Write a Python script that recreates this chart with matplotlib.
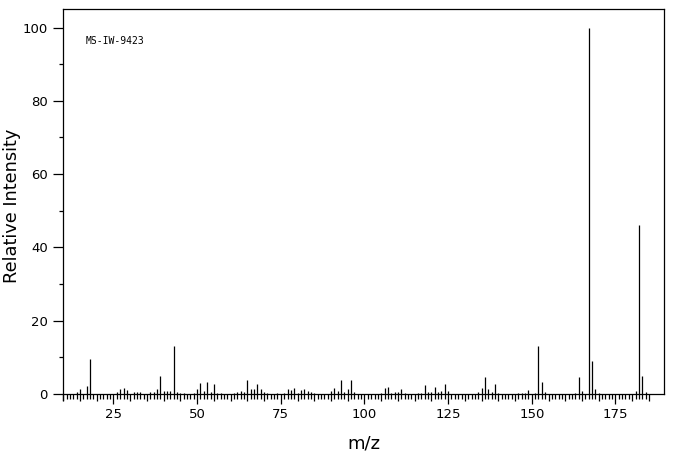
import matplotlib
matplotlib.use("Agg")
import matplotlib.pyplot as plt
import numpy as np

mz = [14, 15, 17, 18, 26, 27, 28, 29, 31, 32, 33, 36, 37, 38, 39, 40, 41, 42, 43, 44,
      45, 46, 49, 50, 51, 52, 53, 54, 55, 56, 57, 61, 62, 63, 64, 65, 66, 67, 68, 69,
      70, 71, 74, 76, 77, 78, 79, 80, 81, 82, 83, 84, 85, 90, 91, 92, 93, 94, 95, 96,
      97, 105, 106, 107, 108, 109, 110, 111, 112, 116, 117, 118, 119, 120, 121, 122, 123, 124, 125,
      134, 135, 136, 137, 138, 139, 140, 146, 147, 148, 149, 151, 152, 153, 154,
      163, 164, 165, 167, 168, 169, 170, 181, 182, 183, 184]
intensity = [0.45, 1.45, 2.1, 9.6, 0.45, 1.45, 1.7, 1.2, 0.45, 0.45, 0.45, 0.45, 0.45, 1.45, 4.8, 0.9, 0.9, 0.9, 13.0, 0.6,
             0.35, 0.35, 0.35, 1.45, 2.9, 0.9, 3.4, 0.6, 2.6, 0.35, 0.35, 0.35, 0.6, 0.9, 0.6, 3.9, 1.45, 1.45, 2.8, 1.45,
             0.6, 0.35, 0.35, 0.35, 1.45, 1.2, 1.7, 0.35, 1.2, 1.45, 0.9, 0.6, 0.35, 0.9, 1.7, 0.9, 3.9, 0.6, 1.45, 3.9,
             0.6, 0.35, 1.7, 2.0, 0.35, 0.6, 0.6, 1.45, 0.35, 0.35, 0.35, 2.5, 0.6, 0.6, 2.0, 0.6, 0.9, 2.8, 0.9,
             0.6, 1.7, 4.7, 1.45, 0.6, 2.7, 0.35, 0.35, 0.35, 0.35, 1.1, 0.35, 13.0, 3.3, 0.6,
             0.35, 4.6, 0.9, 100.0, 9.1, 1.45, 0.35, 0.9, 46.0, 5.0, 0.6]

x_labels = [25, 50, 75, 100, 125, 150, 175]
y_major = [0, 20, 40, 60, 80, 100]
y_minor = [10, 30, 50, 70, 90]
x_tick_range = (10, 185)
label_text = "MS-IW-9423"

fig = plt.figure(figsize=(6.76, 4.55), dpi=100)
W, H = 676, 455
left, right, top, bottom = 63.3, 664.3, 9.3, 400.0
ax = fig.add_axes([left / W, 1 - bottom / H, (right - left) / W, (bottom - top) / H])

ax.vlines(mz, 0, intensity, colors="black", linewidth=0.9)

ax.set_xlim(10, 189.6)
ax.set_ylim(-1.64, 104.97)

for s in ax.spines.values():
    s.set_linewidth(0.9)
    s.set_color("black")
ax.spines["bottom"].set_position(("data", 0))
ax.spines["right"].set_bounds(0, 104.97)

ax.set_xticks(x_labels)
ax.set_xticklabels([str(v) for v in x_labels])
minor_x = [v for v in range(x_tick_range[0], x_tick_range[1] + 1) if v % 25 != 0]
ax.set_xticks(minor_x, minor=True)
ax.set_yticks(y_major)
ax.set_yticks(y_minor, minor=True)

ax.tick_params(axis="x", which="major", direction="out", length=7.0, width=0.9, labelsize=9.5, pad=3)
ax.tick_params(axis="x", which="minor", direction="out", length=3.8, width=0.9)
ax.tick_params(axis="y", which="major", direction="out", length=7.2, width=0.9, labelsize=9.5, pad=4)
ax.tick_params(axis="y", which="minor", direction="out", length=3.2, width=0.9)

# medium ticks at multiples of 5
for t, v in zip(ax.xaxis.get_minor_ticks(len(minor_x)), minor_x):
    if v % 5 == 0:
        t.tick1line.set_markersize(5.2)

ax.set_xlabel("m/z", fontsize=13, labelpad=10)
ax.set_ylabel("Relative Intensity", fontsize=12.8)
ax.yaxis.label.set_va("center")
ax.yaxis.set_label_coords((12.5 - left) / (right - left), (bottom - 206) / (bottom - top))

ax.text((86 - left) / (right - left), (bottom - 41) / (bottom - top), label_text,
        transform=ax.transAxes, fontsize=7, family="DejaVu Sans Mono", va="center", ha="left")

fig.savefig("out.png", dpi=100)
